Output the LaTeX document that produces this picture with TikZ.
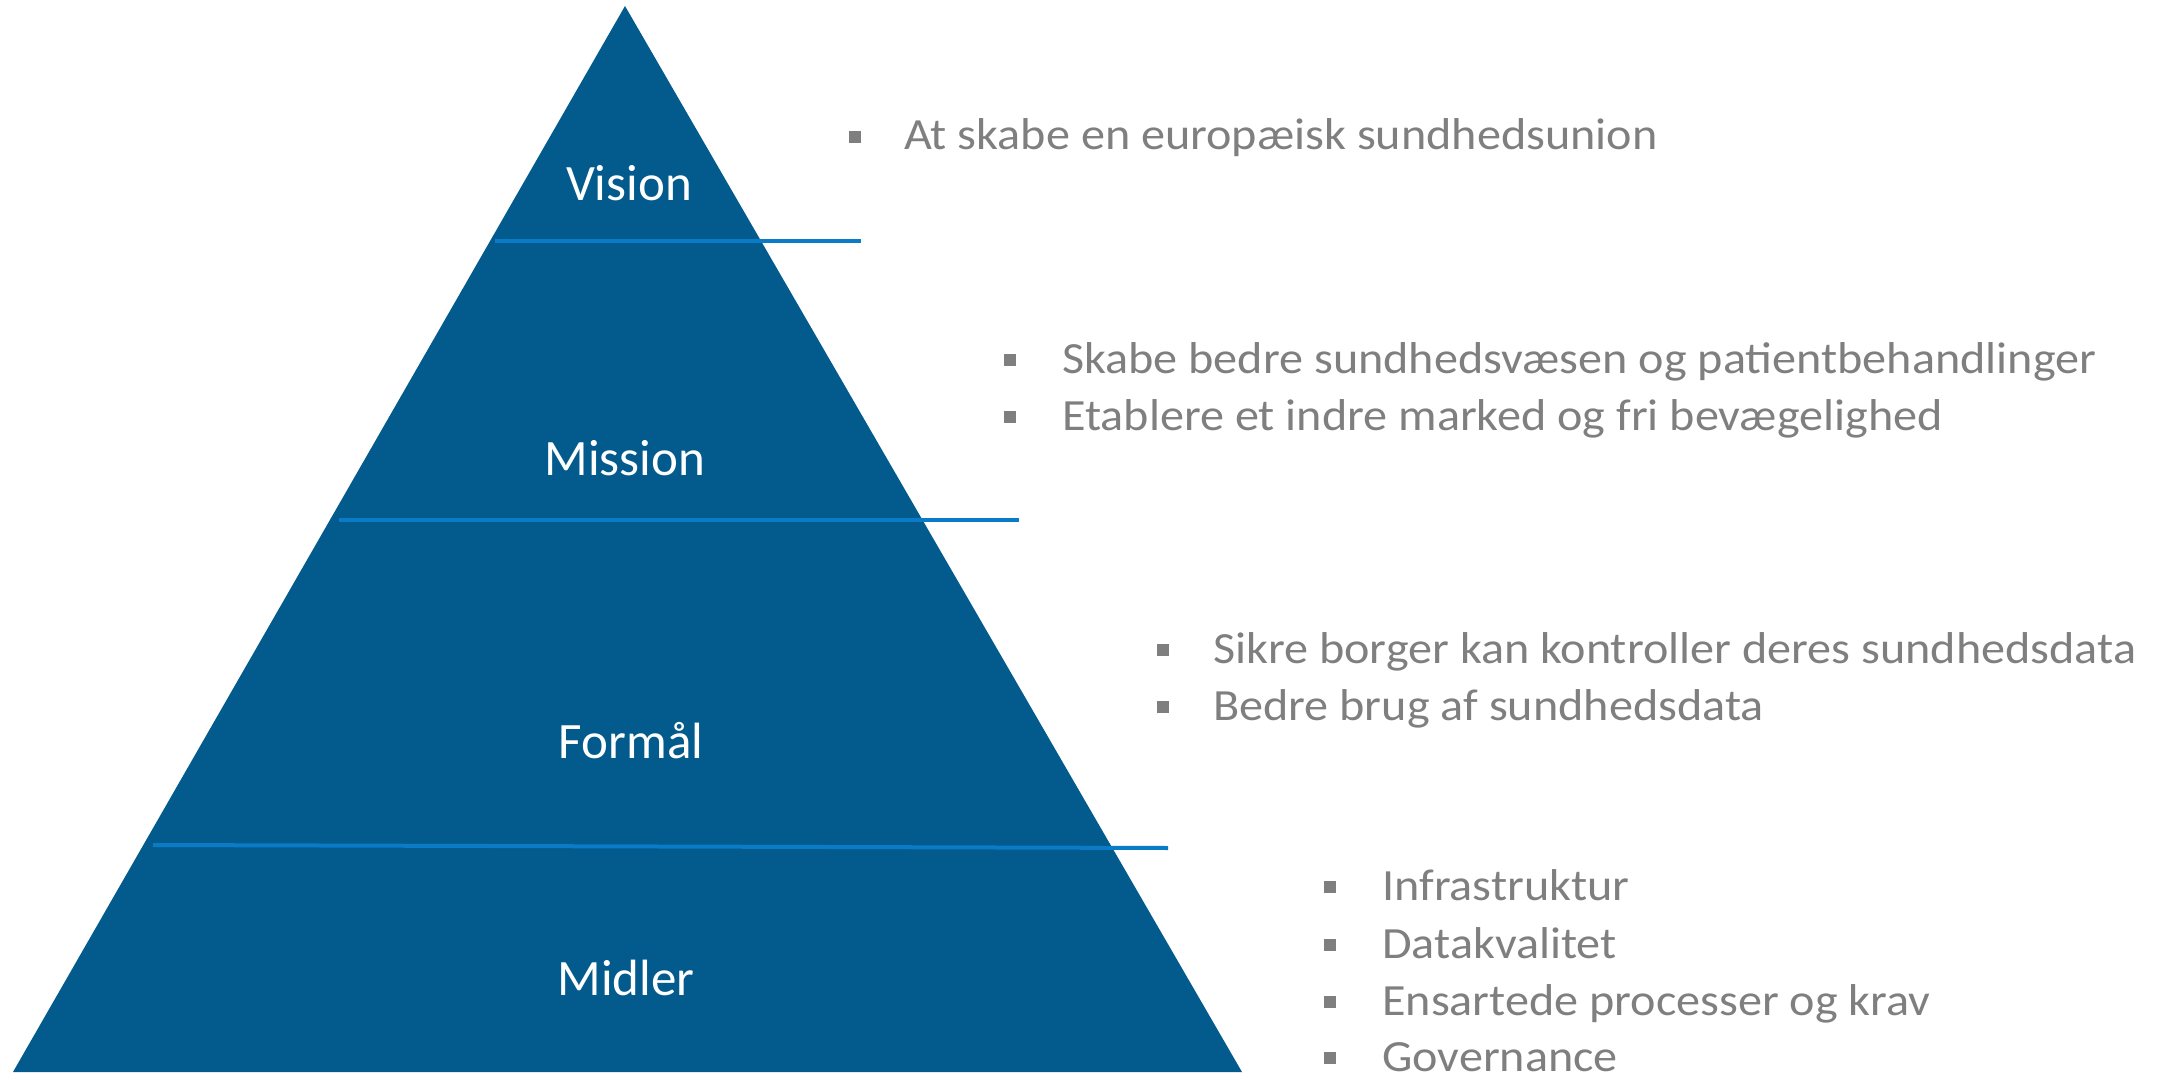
\documentclass[tikz,border=0pt]{standalone}
\usepackage{fontspec}
\setmainfont{Carlito}
\newfontfamily\itemfont[FakeStretch=1.08]{Carlito}
\definecolor{pyr}{HTML}{025B8C}
\definecolor{sep}{HTML}{0A7BC6}
\definecolor{txt}{HTML}{7F7F7F}
\begin{document}
\begin{tikzpicture}[x=1pt,y=-1pt,
  lvl/.style={text=white,font=\fontsize{51}{60}\selectfont,inner sep=0pt,anchor=base},
  item/.style={text=txt,font=\itemfont\fontsize{44.6}{52}\selectfont,inner sep=0pt,anchor=base west},
  bul/.style={fill=txt,minimum size=12pt,inner sep=0pt,draw=none},
  sepline/.style={draw=sep,line width=4pt}]
\useasboundingbox (0,0) rectangle (2159,1075);
% pyramid
\coordinate (top) at (625,6);
\coordinate (bl) at (13,1072);
\coordinate (br) at (1242,1072);
\fill[pyr] (top) -- (br) -- (bl) -- cycle;
% separators
\coordinate (s1a) at (495,241); \coordinate (s1b) at (861,241);
\coordinate (s2a) at (339,520); \coordinate (s2b) at (1019,520);
\coordinate (s3a) at (153,845); \coordinate (s3b) at (1168,848);
\draw[sepline] (s1a) -- (s1b);
\draw[sepline] (s2a) -- (s2b);
\draw[sepline] (s3a) -- (s3b);
% level labels
\node[lvl] (vision) at (629,201) {Vision};
\node[lvl] (mission) at (625,475) {Mission};
\node[lvl] (formaal) at (631,758) {Formål};
\node[lvl] (midler) at (626,995) {Midler};
% items
\node[bul] (ba) at (855,137) {};
\node[item] (ta) at (904,150) {At skabe en europæisk sundhedsunion};
\node[bul] (bm1) at (1010,360) {};
\node[item] (tm1) at (1062,373) {Skabe bedre sundhedsvæsen og patientbehandlinger};
\node[bul] (bm2) at (1010,417) {};
\node[item] (tm2) at (1062,430) {Etablere et indre marked og fri bevægelighed};
\node[bul] (bf1) at (1163,650) {};
\node[item] (tf1) at (1213,663) {Sikre borger kan kontroller deres sundhedsdata};
\node[bul] (bf2) at (1163,707) {};
\node[item] (tf2) at (1213,720) {Bedre brug af sundhedsdata};
\node[bul] (bd1) at (1330,887) {};
\node[item] (td1) at (1382,900) {Infrastruktur};
\node[bul] (bd2) at (1330,945) {};
\node[item] (td2) at (1382,958) {Datakvalitet};
\node[bul] (bd3) at (1330,1002) {};
\node[item] (td3) at (1382,1015) {Ensartede processer og krav};
\node[bul] (bd4) at (1330,1058) {};
\node[item] (td4) at (1382,1071) {Governance};
\end{tikzpicture}
\end{document}
